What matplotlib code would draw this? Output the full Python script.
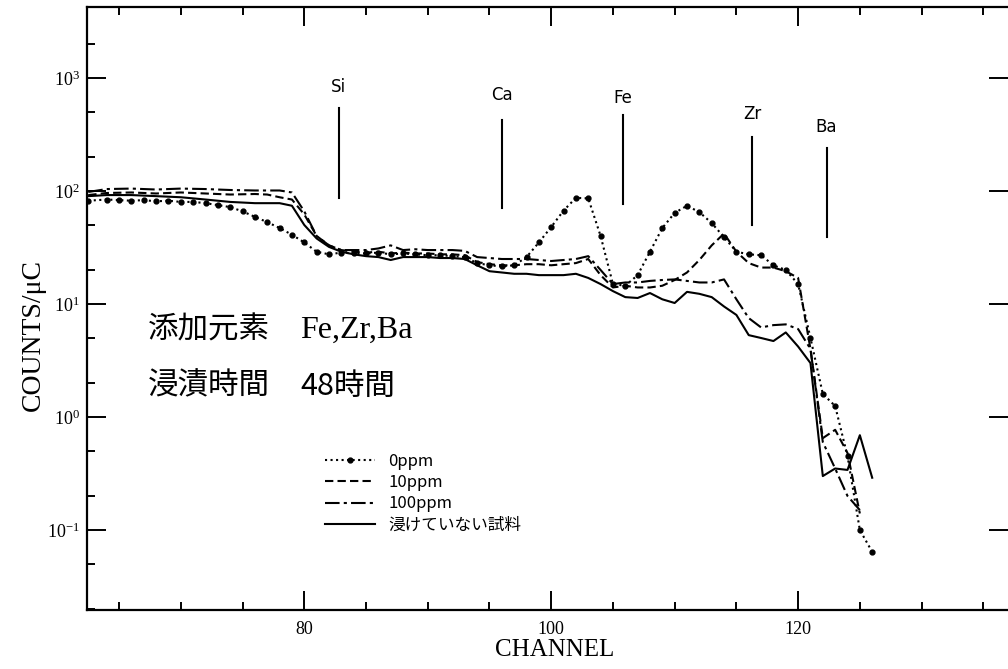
import matplotlib
matplotlib.use('Agg')
import matplotlib.pyplot as plt
from matplotlib.ticker import LogLocator, MultipleLocator, NullFormatter, FixedLocator

plt.rcParams['font.family'] = ['Liberation Serif', 'DejaVu Serif']
plt.rcParams['mathtext.fontset'] = 'stix'

# ---- data (channel, counts/uC) ----
# 0ppm  (dotted with dots)
ch_0 = [62.5, 64, 65, 66, 67, 68, 69, 70, 71, 72, 73, 74, 75, 76, 77, 78, 79, 80,
        81, 82, 83, 84, 85, 86, 87, 88, 89, 90, 91, 92, 93, 94, 95, 96, 97, 98,
        99, 100, 101, 102, 103, 104, 105, 106, 107, 108, 109, 110, 111, 112,
        113, 114, 115, 116, 117, 118, 119, 120, 121, 122, 123, 124, 125, 126]
cnt_0 = [82, 84, 83, 82, 83, 81, 82, 80, 80, 78, 75, 72, 66, 59, 53, 47, 41, 35,
         29, 27.5, 28.5, 28, 28, 28.5, 27.5, 28, 27.5, 27, 27, 26.5, 26, 23, 22, 21.5, 22, 26,
         35, 48, 67, 87, 86, 40, 15, 14.5, 18, 29, 47, 64, 74, 65,
         52, 39, 29, 27.5, 27, 22, 20, 15, 5, 1.6, 1.25, 0.45, 0.1, 0.064]

# 10ppm (dashed)
ch_10 = [62.5, 64, 66, 68, 70, 72, 74, 76, 77, 78, 79, 80, 81, 82, 83, 84, 85, 86,
         87, 88, 89, 90, 91, 92, 93, 94, 95, 96, 97, 98, 99, 100, 101, 102, 103,
         104, 105, 106, 107, 108, 109, 110, 111, 112, 113, 114, 115, 116, 117,
         118, 119, 120, 121, 122, 123, 124, 125]
cnt_10 = [92, 96, 97, 95, 97, 95, 93, 94, 93, 88, 84, 62, 40, 33, 30, 29, 28.5, 29,
          28, 28.5, 28, 28, 27.5, 27.5, 27, 23.5, 22.5, 22, 22, 22.5, 22.5, 22, 22.5, 23, 25,
          18, 14, 14.5, 14, 14, 14.5, 16.3, 19, 24.5, 33, 42, 29, 23, 21,
          21, 19.5, 17, 4, 0.65, 0.77, 0.48, 0.14]

# 100ppm (dash-dot)
ch_100 = [62.5, 64, 66, 68, 70, 72, 74, 76, 78, 79, 80, 81, 82, 83, 84, 85, 86, 87,
          88, 89, 90, 91, 92, 93, 94, 95, 96, 97, 98, 99, 100, 101, 102, 103, 104,
          105, 106, 107, 108, 109, 110, 111, 112, 113, 114, 115, 116, 117, 118,
          119, 120, 121, 122, 123, 124, 125]
cnt_100 = [98, 104, 105, 103, 105, 104, 102, 101, 101, 97, 66, 40, 33, 30, 30, 30, 31, 33,
           30, 30.5, 30, 30, 30, 29.5, 26, 25.5, 25, 25, 25, 24.5, 24, 24.5, 25, 26.5, 20,
           15, 15.5, 15.5, 16, 16.3, 16.5, 16, 15.5, 15.5, 16.5, 11, 7.5, 6.2, 6.5,
           6.6, 6, 4, 0.6, 0.35, 0.2, 0.15]

# untreated sample (solid)
ch_ref = [62.5, 64, 66, 68, 70, 72, 74, 76, 78, 79, 80, 81, 82, 83, 84, 85, 86, 87,
          88, 89, 90, 91, 92, 93, 94, 95, 96, 97, 98, 99, 100, 101, 102, 103, 104,
          105, 106, 107, 108, 109, 110, 111, 112, 113, 114, 115, 116, 117, 118,
          119, 120, 121, 122, 123, 124, 125, 126]
cnt_ref = [90, 92, 92, 90, 88, 84, 80, 78, 78, 74, 50, 38, 32, 29, 27.5, 26.5, 26, 24.5,
           26, 26, 26, 25.5, 25.5, 25, 22, 19.5, 19, 18.5, 18.5, 18, 18, 18, 18.5, 17, 15,
           13, 11.5, 11.3, 12.5, 11, 10.2, 12.8, 12.3, 11.5, 9.5, 8, 5.3, 5, 4.7,
           5.6, 4.2, 3.0, 0.3, 0.35, 0.34, 0.69, 0.29]

labels = ['0ppm', '10ppm', '100ppm', '浸けていない試料']

# element markers: name, channel, line bottom/top, label height
elem_names = ['Si', 'Ca', 'Fe', 'Zr', 'Ba']
elem_ch = [82.8, 96.0, 105.8, 116.3, 122.3]
elem_lo = [87, 71, 77, 50, 39]
elem_hi = [543, 425, 471, 300, 240]
elem_txt = [832, 708, 665, 480, 368]

fig = plt.figure(figsize=(10.08, 6.69), dpi=100)
ax = fig.add_axes([87/1008, 59/669, 921/1008, 603/669])

lw = 1.5
ax.plot(ch_0, cnt_0, color='k', ls=':', lw=lw, marker='o', ms=3.5, label=labels[0])
ax.plot(ch_10, cnt_10, color='k', ls=(0, (4, 2)), lw=lw, label=labels[1])
ax.plot(ch_100, cnt_100, color='k', ls=(0, (7, 2, 1.5, 2)), lw=lw, label=labels[2])
ax.plot(ch_ref, cnt_ref, color='k', ls='-', lw=lw, label=labels[3])

for name, c, lo, hi, ty in zip(elem_names, elem_ch, elem_lo, elem_hi, elem_txt):
    ax.plot([c, c], [lo, hi], color='k', lw=1.5)
    ax.text(c, ty, name, ha='center', va='center', fontsize=12,
            family=['DejaVu Sans'])

ax.set_yscale('log')
ax.set_xlim(62.4, 137.0)
ax.set_ylim(10**-1.708, 10**3.628)

ax.xaxis.set_major_locator(FixedLocator([80, 100, 120]))
ax.xaxis.set_minor_locator(MultipleLocator(5))
ax.yaxis.set_major_locator(LogLocator(base=10, numticks=10))
ax.yaxis.set_minor_locator(LogLocator(base=10, subs=(2.0, 5.0), numticks=10))
ax.yaxis.set_minor_formatter(NullFormatter())

ax.tick_params(which='both', direction='in', top=True, right=True, width=1.4)
ax.tick_params(which='major', length=14, labelsize=13)
ax.tick_params(which='minor', length=6)
ax.tick_params(axis='y', which='minor', right=False)
ax.tick_params(axis='y', pad=5)
ax.tick_params(axis='x', pad=8)
for s in ['left', 'bottom', 'top']:
    ax.spines[s].set_linewidth(1.6)
ax.spines['right'].set_visible(False)

fig.text(555/1008, 1 - 650/669, 'CHANNEL', ha='center', va='center', fontsize=18)
fig.text(33/1008, 1 - 335/669, 'COUNTS/μC', ha='center', va='center', fontsize=20,
         rotation=90)

# sample description
cjk = ['Noto Sans CJK JP', 'DejaVu Sans']
fig.text(148/1008, 1 - 330/669, '添加元素', ha='left', va='center', fontsize=22, family=cjk)
fig.text(300/1008, 1 - 330/669, 'Fe,Zr,Ba', ha='left', va='center', fontsize=23)
fig.text(148/1008, 1 - 386/669, '浸漬時間', ha='left', va='center', fontsize=22, family=cjk)
fig.text(300/1008, 1 - 386/669, '48時間', ha='left', va='center', fontsize=22, family=cjk)

ax.legend(loc='upper left', bbox_to_anchor=((325-87)/921, (610-453)/603),
          frameon=False, borderpad=0, borderaxespad=0, handlelength=3.0,
          handletextpad=0.8, labelspacing=0.25, numpoints=1,
          prop={'family': cjk, 'size': 12})

fig.savefig('out.png', dpi=100)
